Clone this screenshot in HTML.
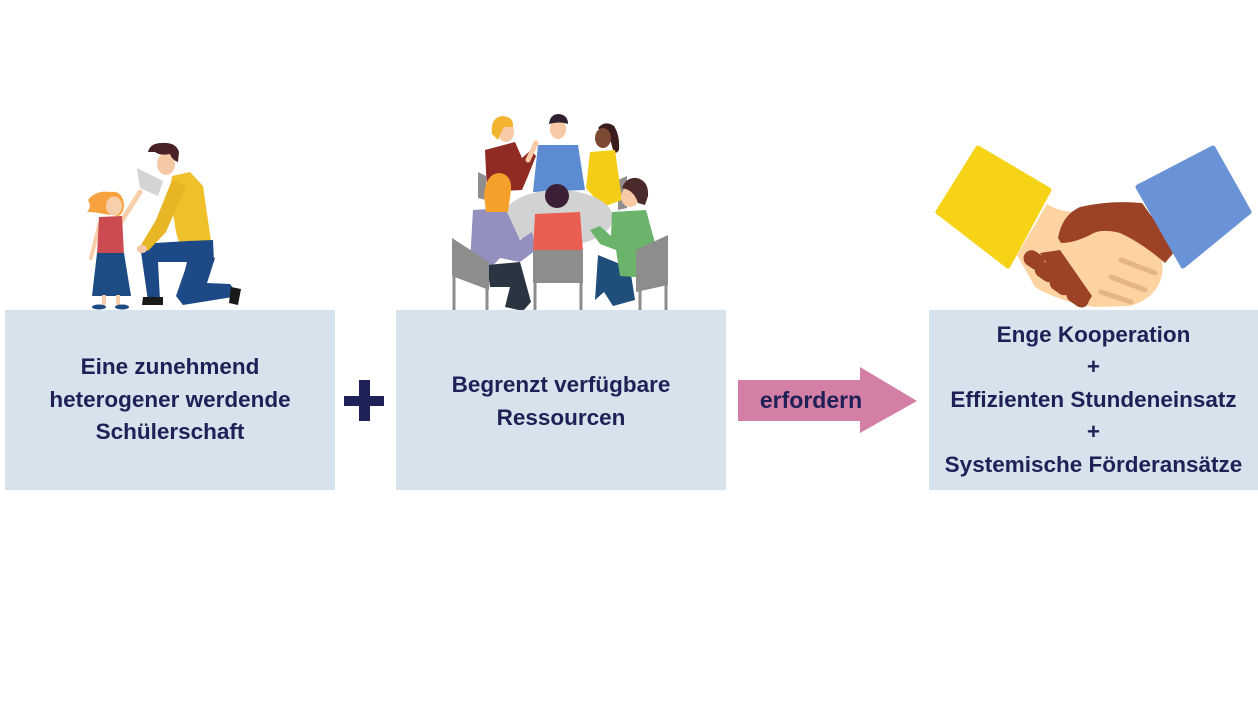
<!DOCTYPE html>
<html>
<head>
<meta charset="utf-8">
<style>
  html,body{margin:0;padding:0;background:#ffffff;}
  body{width:1258px;height:708px;position:relative;overflow:hidden;font-family:"Liberation Sans",Arial,sans-serif;}
  .box{position:absolute;top:310px;height:180px;background:#d6e3ed;display:flex;align-items:center;justify-content:center;text-align:center;color:#1e2056;font-weight:bold;font-size:22.5px;line-height:32.5px;}
  #b1{left:5px;width:330px;}
  #b2{left:396px;width:330px;padding-top:3px;height:177px;}
  #b3{left:929px;width:329px;}
  .lbl{position:absolute;left:749px;top:383px;width:124px;text-align:center;color:#1e2056;font-weight:bold;font-size:23px;line-height:34px;}
  svg{position:absolute;left:0;top:0;}
</style>
</head>
<body>
<svg width="1258" height="708" viewBox="0 0 1258 708">
  <!-- Plus sign -->
  <rect x="344" y="396" width="40" height="10" fill="#1f2258"/>
  <rect x="359" y="380" width="11" height="41" fill="#1f2258"/>
  <!-- Arrow -->
  <polygon points="738,380 860,380 860,367 917,401 860,433 860,421 738,421" fill="#d37fa6"/>

  <!-- ===== Man and girl ===== -->
  <path d="M88,200 Q96,190 110,192 Q122,190 124,204 Q124,214 118,216 L104,214 Q96,212 87,212 Q92,207 88,200 Z" fill="#f6a33f"/>
  <ellipse cx="114" cy="206" rx="8" ry="9.5" fill="#f8cfab"/>
  <line x1="121" y1="222" x2="140" y2="192" stroke="#f8cfab" stroke-width="5" stroke-linecap="round"/>
  <polygon points="137,168 163,181 158,196 140,188" fill="#d4d4d4"/>
  <line x1="100" y1="222" x2="91" y2="258" stroke="#f8cfab" stroke-width="4" stroke-linecap="round"/>
  <polygon points="99,217 122,216 124,254 97,254" fill="#cc4b50"/>
  <polygon points="97,253 124,253 131,296 92,296" fill="#1d4c85"/>
  <line x1="104" y1="295" x2="104" y2="305" stroke="#f8cfab" stroke-width="4"/>
  <line x1="118" y1="295" x2="118" y2="305" stroke="#f8cfab" stroke-width="4"/>
  <ellipse cx="99" cy="307" rx="7" ry="2.5" fill="#1d4c85"/>
  <ellipse cx="122" cy="307" rx="7" ry="2.5" fill="#1d4c85"/>
  <ellipse cx="166" cy="164" rx="9" ry="11" fill="#f6c9a6"/>
  <path d="M148,152 Q150,143 162,143 Q176,142 179,152 L178,162 Q172,160 170,154 Q160,156 155,152 Z" fill="#4a2226"/>
  <polygon points="190,250 215,258 207,283 230,284 239,296 183,305 176,296 185,270" fill="#1d4a86"/>
  <polygon points="231,287 241,289 238,305 229,303" fill="#1a1a1a"/>
  <polygon points="172,176 190,172 203,186 213,255 184,260 176,232 170,195" fill="#f0c02a"/>
  <polygon points="213,240 214,262 158,262 160,300 148,301 141,252 155,243 188,241" fill="#1d4a86"/>
  <polygon points="143,297 163,297 163,305 142,305" fill="#1a1a1a"/>
  <polygon points="172,180 186,186 166,232 148,251 141,245 156,220" fill="#e8b624"/>
  <ellipse cx="142" cy="249" rx="5" ry="4" fill="#f6c9a6"/>

  <!-- ===== Group at table ===== -->
  <polygon points="478,172 486,176 486,200 478,198" fill="#8e8e8e"/>
  <polygon points="618,180 627,176 627,208 618,210" fill="#8e8e8e"/>
  <polygon points="485,150 515,142 522,158 531,150 536,156 528,176 522,190 487,192" fill="#902b24"/>
  <line x1="528" y1="160" x2="536" y2="143" stroke="#f7c9a5" stroke-width="5" stroke-linecap="round"/>
  <ellipse cx="506" cy="132" rx="8" ry="10" fill="#f7c9a5"/>
  <path d="M492,134 Q490,117 503,116 Q514,117 513,127 L504,127 Q500,134 498,140 Z" fill="#f3b431"/>
  <polygon points="538,145 578,145 585,190 533,192" fill="#5c8bd2"/>
  <ellipse cx="558" cy="129" rx="8" ry="10" fill="#f7c9a5"/>
  <path d="M549,124 Q550,114 559,114 Q568,115 568,124 Q560,121 549,124 Z" fill="#2f1f30"/>
  <path d="M598,128 Q605,120 614,126 Q620,135 619,150 Q614,158 611,142 Z" fill="#3b1c1c"/>
  <ellipse cx="603" cy="138" rx="8" ry="10" fill="#7c4a33"/>
  <polygon points="590,152 615,150 622,200 603,207 586,188" fill="#f4cd16"/>
  <ellipse cx="558" cy="218" rx="55" ry="28" fill="#d2d2d2"/>
  <polygon points="473,210 505,208 520,240 532,232 536,250 520,262 500,258 487,272 470,262" fill="#9390bf"/>
  <polygon points="487,265 520,262 531,302 523,311 505,307 510,287 490,287" fill="#2b3441"/>
  <path d="M484,195 Q486,173 500,173 Q512,175 511,190 L508,212 L486,212 Z" fill="#f5a02a"/>
  <polygon points="535,214 580,212 583,252 533,252" fill="#e95e50"/>
  <circle cx="557" cy="196" r="12" fill="#3a1f36"/>
  <polygon points="598,255 630,268 635,300 613,306 604,292 595,300" fill="#1f4e7b"/>
  <polygon points="612,212 646,210 657,250 650,278 620,276 616,250 600,244 590,230 600,226 611,236" fill="#6cb46c"/>
  <ellipse cx="630" cy="197" rx="9" ry="10" fill="#f7c9a5"/>
  <path d="M622,188 Q626,177 637,178 Q649,181 648,196 L645,205 L638,203 Q634,190 622,188 Z" fill="#4a2a2a"/>
  <polygon points="452,238 489,262 489,290 452,276" fill="#8d8d8d"/>
  <line x1="454" y1="272" x2="454" y2="310" stroke="#8d8d8d" stroke-width="3"/>
  <line x1="487" y1="285" x2="487" y2="310" stroke="#8d8d8d" stroke-width="3"/>
  <rect x="533" y="250" width="50" height="33" fill="#8d8d8d"/>
  <line x1="535" y1="282" x2="535" y2="310" stroke="#8d8d8d" stroke-width="3"/>
  <line x1="581" y1="282" x2="581" y2="310" stroke="#8d8d8d" stroke-width="3"/>
  <polygon points="636,250 668,235 668,285 636,292" fill="#8d8d8d"/>
  <line x1="640" y1="288" x2="640" y2="310" stroke="#8d8d8d" stroke-width="3"/>
  <line x1="666" y1="283" x2="666" y2="310" stroke="#8d8d8d" stroke-width="3"/>

  <!-- ===== Handshake ===== -->
  <path d="M1017,255 L1047,204 Q1060,212 1075,212 L1110,222 Q1138,232 1160,255 Q1166,270 1158,286 Q1150,300 1130,306 L1095,307 Q1060,302 1035,287 Z" fill="#fdd3a2"/>
  <path d="M1058,238 Q1062,215 1080,207 Q1110,200 1142,203 L1176,250 L1165,263 Q1142,243 1120,233 Q1100,228 1090,235 Q1074,243 1061,243 Z" fill="#9c4327"/>
  <g fill="#9c4327">
    <rect x="1023" y="252" width="22" height="16" rx="8" transform="rotate(35 1034 260)"/>
    <rect x="1034" y="264" width="24" height="16" rx="8" transform="rotate(35 1046 272)"/>
    <rect x="1049" y="277" width="24" height="16" rx="8" transform="rotate(35 1061 285)"/>
    <rect x="1066" y="290" width="24" height="15" rx="7.5" transform="rotate(35 1078 297)"/>
    <polygon points="1040,253 1060,250 1092,296 1085,307 1070,300"/>
  </g>
  <g stroke="#e6b585" stroke-width="5" stroke-linecap="round">
    <line x1="1121" y1="260" x2="1155" y2="273"/>
    <line x1="1111" y1="277" x2="1145" y2="290"/>
    <line x1="1101" y1="292" x2="1131" y2="302"/>
  </g>
  <polygon points="938,212 978,148 1049,190 1008,266" fill="#f6d317" stroke="#f6d317" stroke-width="5" stroke-linejoin="round"/>
  <polygon points="1138,187 1213,148 1249,212 1183,266" fill="#6a92d6" stroke="#6a92d6" stroke-width="5" stroke-linejoin="round"/>
</svg>

<div class="box" id="b1"><div>Eine zunehmend<br>heterogener werdende<br>Schülerschaft</div></div>
<div class="box" id="b2"><div>Begrenzt verfügbare<br>Ressourcen</div></div>
<div class="box" id="b3"><div>Enge Kooperation<br>+<br>Effizienten Stundeneinsatz<br>+<br>Systemische Förderansätze</div></div>
<div class="lbl">erfordern</div>
</body>
</html>
